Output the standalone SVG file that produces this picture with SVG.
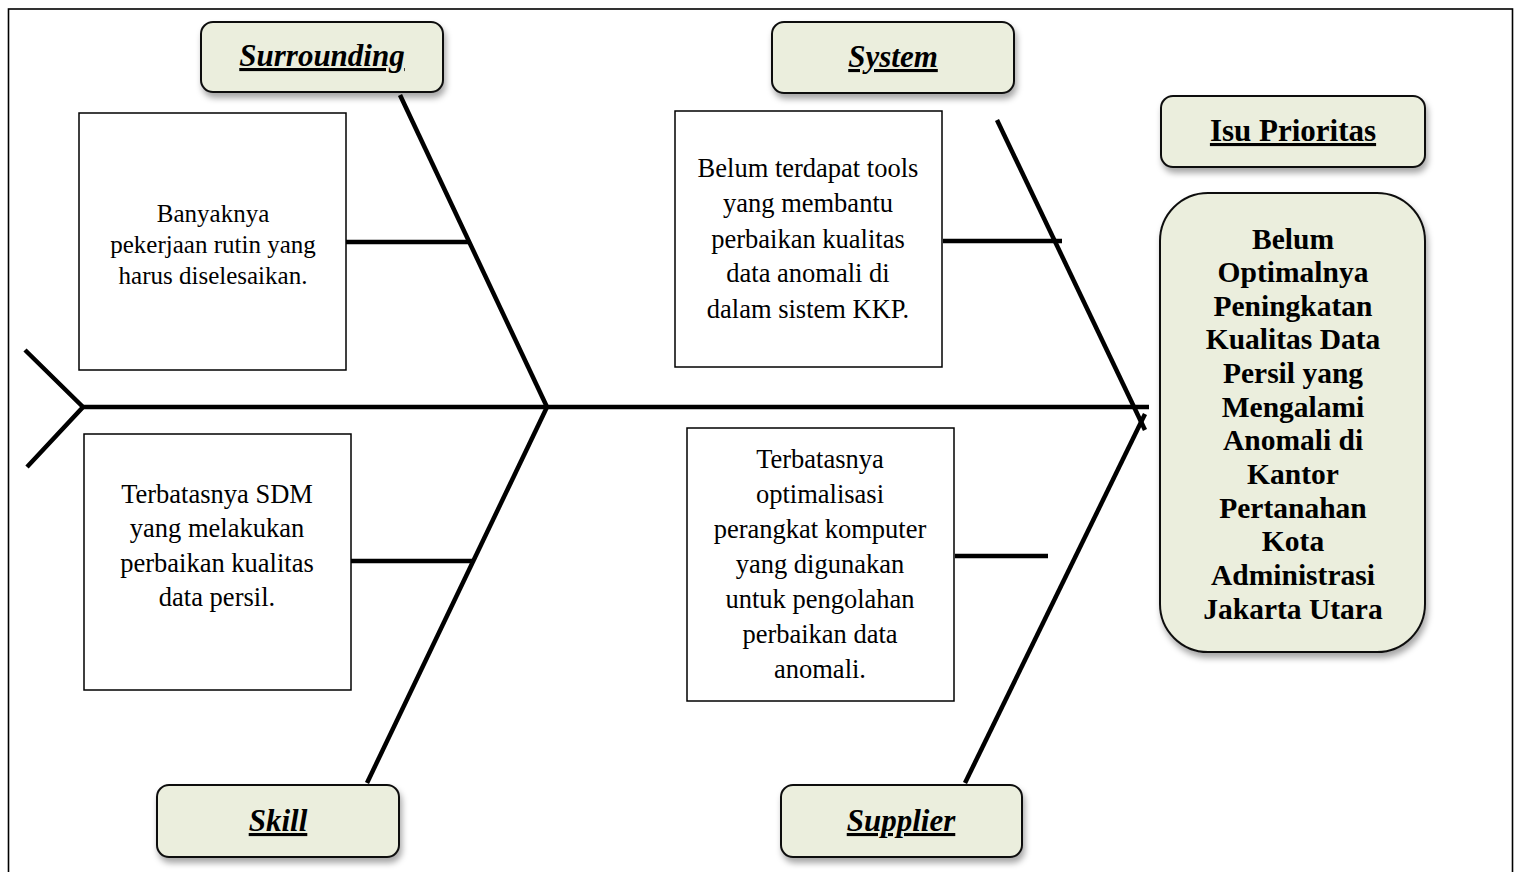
<svg xmlns="http://www.w3.org/2000/svg" width="1520" height="872" viewBox="0 0 1520 872">
<defs>
<filter id="sh" x="-20%" y="-20%" width="140%" height="140%">
<feDropShadow dx="2" dy="5" stdDeviation="3" flood-color="#000" flood-opacity="0.35"/>
</filter>
<style>
.lab{fill:#ebeedd;stroke:#111;stroke-width:2;filter:url(#sh)}
.box{fill:#fff;stroke:#000;stroke-width:1.5}
.bone{stroke:#000;stroke-width:4.5;fill:none;stroke-linecap:butt}
.t{font-family:"Liberation Serif","Times New Roman",serif;font-size:26.5px;fill:#000;text-anchor:middle}
.t1{font-size:25px}
.h{font-family:"Liberation Serif","Times New Roman",serif;font-size:31px;font-weight:bold;font-style:italic;text-decoration:underline;fill:#000;text-anchor:middle}
.hi{font-family:"Liberation Serif","Times New Roman",serif;font-size:31px;font-weight:bold;text-decoration:underline;fill:#000;text-anchor:middle}
.m{font-family:"Liberation Serif","Times New Roman",serif;font-size:29.5px;font-weight:bold;fill:#000;text-anchor:middle}
</style>
</defs>
<rect x="8.5" y="9" width="1504" height="880" fill="none" stroke="#000" stroke-width="1.6"/>
<g id="connectors">
<line class="bone" x1="83" y1="407" x2="1149" y2="407"/>
<polyline class="bone" points="25,350 83,407 27,467"/>
<line class="bone" x1="400" y1="95" x2="547" y2="407"/>
<line class="bone" x1="547" y1="407" x2="367" y2="783"/>
<line class="bone" x1="346" y1="242" x2="469" y2="242"/>
<line class="bone" x1="351" y1="561" x2="472" y2="561"/>
<line class="bone" x1="997" y1="120" x2="1145" y2="430"/>
<line class="bone" x1="1145" y1="414" x2="965" y2="783"/>
<line class="bone" x1="943" y1="241" x2="1062" y2="241"/>
<line class="bone" x1="955" y1="556" x2="1048" y2="556"/>
</g>
<g id="surrounding">
<rect class="lab" x="201" y="22" width="242" height="70" rx="12"/>
<text class="h" x="322" y="66">Surrounding</text>
</g>
<g id="system">
<rect class="lab" x="772" y="22" width="242" height="71" rx="12"/>
<text class="h" x="893" y="67">System</text>
</g>
<g id="isu">
<rect class="lab" x="1161" y="96" width="264" height="71" rx="12"/>
<text class="hi" x="1293" y="141">Isu Prioritas</text>
</g>
<g id="masalah">
<rect class="lab" x="1160" y="193" width="265" height="459" rx="48"/>
<text class="m" x="1293" y="249">Belum</text>
<text class="m" x="1293" y="282">Optimalnya</text>
<text class="m" x="1293" y="316">Peningkatan</text>
<text class="m" x="1293" y="349">Kualitas Data</text>
<text class="m" x="1293" y="383">Persil yang</text>
<text class="m" x="1293" y="417">Mengalami</text>
<text class="m" x="1293" y="450">Anomali di</text>
<text class="m" x="1293" y="484">Kantor</text>
<text class="m" x="1293" y="518">Pertanahan</text>
<text class="m" x="1293" y="551">Kota</text>
<text class="m" x="1293" y="585">Administrasi</text>
<text class="m" x="1293" y="619">Jakarta Utara</text>
</g>
<g id="skill">
<rect class="lab" x="157" y="785" width="242" height="72" rx="12"/>
<text class="h" x="278" y="831">Skill</text>
</g>
<g id="supplier">
<rect class="lab" x="781" y="785" width="241" height="72" rx="12"/>
<text class="h" x="901" y="831">Supplier</text>
</g>
<g id="cause1">
<rect class="box" x="79" y="113" width="267" height="257"/>
<text class="t t1" x="213" y="222">Banyaknya</text>
<text class="t t1" x="213" y="253">pekerjaan rutin yang</text>
<text class="t t1" x="213" y="284">harus diselesaikan.</text>
</g>
<g id="cause2">
<rect class="box" x="675" y="111" width="267" height="256"/>
<text class="t" x="808" y="177">Belum terdapat tools</text>
<text class="t" x="808" y="212">yang membantu</text>
<text class="t" x="808" y="248">perbaikan kualitas</text>
<text class="t" x="808" y="282">data anomali di</text>
<text class="t" x="808" y="318">dalam sistem KKP.</text>
</g>
<g id="cause3">
<rect class="box" x="84" y="434" width="267" height="256"/>
<text class="t" x="217" y="503">Terbatasnya SDM</text>
<text class="t" x="217" y="537">yang melakukan</text>
<text class="t" x="217" y="572">perbaikan kualitas</text>
<text class="t" x="217" y="606">data persil.</text>
</g>
<g id="cause4">
<rect class="box" x="687" y="428" width="267" height="273"/>
<text class="t" x="820" y="468">Terbatasnya</text>
<text class="t" x="820" y="503">optimalisasi</text>
<text class="t" x="820" y="538">perangkat komputer</text>
<text class="t" x="820" y="573">yang digunakan</text>
<text class="t" x="820" y="608">untuk pengolahan</text>
<text class="t" x="820" y="643">perbaikan data</text>
<text class="t" x="820" y="678">anomali.</text>
</g>
</svg>
